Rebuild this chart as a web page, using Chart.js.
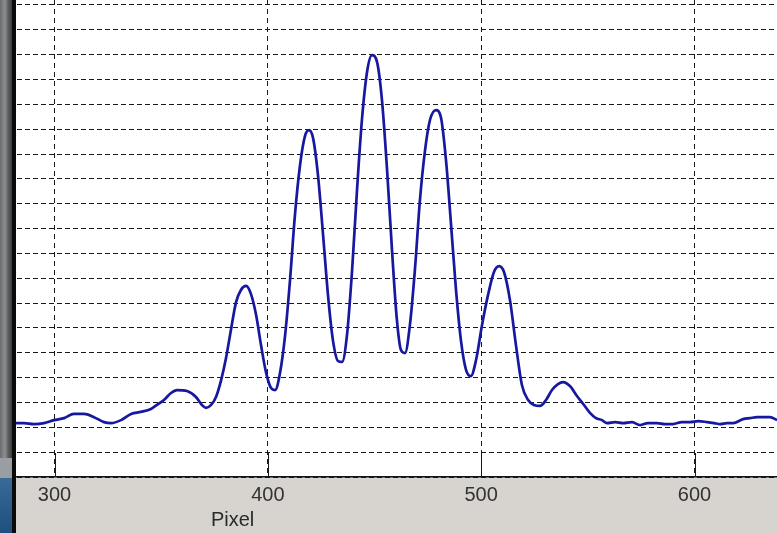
<!DOCTYPE html>
<html>
<head>
<meta charset="utf-8">
<script src="https://cdn.jsdelivr.net/npm/chart.js@4/dist/chart.umd.min.js"></script>
<style>
  html, body { margin: 0; padding: 0; background: #d7d4cf; }
  #wrap { position: relative; width: 777px; height: 533px; overflow: hidden; }
  #edge { position: absolute; left: 0; top: 0; width: 12px; height: 533px;
          background: linear-gradient(to right, #6a6c6e 0%, #8d9092 40%, #5a5c5e 70%, #3a3b3c 100%); }
  #edgeLow { position: absolute; left: 0; top: 458px; width: 12px; height: 20px; background: #9a9ea2; }
  #edgeBlue { position: absolute; left: 0; top: 478px; width: 12px; height: 55px;
              background: linear-gradient(to bottom, #3a6a98, #1f4f7e); }
  #bar { position: absolute; left: 12px; top: 0; width: 4px; height: 533px; background: #0a0a0a; }
  canvas { position: absolute; left: 0; top: 0; }
</style>
</head>
<body>
<div id="wrap">
  <div id="edge"></div>
  <div id="edgeLow"></div>
  <div id="edgeBlue"></div>
  <div id="bar"></div>
  <canvas id="c" width="777" height="533"></canvas>
</div>
<script>
// ---- data ----
const pixels = [
  281.0, 285.7, 290.4, 295.1, 299.8, 304.5, 309.1, 313.8, 318.5, 323.2,
  326.5, 331.2, 335.9, 340.5, 345.2, 348.0, 351.3, 354.6, 357.4, 362.1,
  366.3, 369.1, 371.0, 373.4, 375.7, 378.1, 380.4, 382.7, 385.1, 387.4,
  389.8, 392.1, 394.5, 396.8, 399.1, 401.5, 403.4, 405.7, 408.1, 410.4,
  412.7, 415.1, 417.4, 419.3, 421.2, 423.5, 425.9, 428.2, 430.5, 432.9,
  434.8, 437.1, 439.5, 441.8, 444.1, 446.5, 448.8, 451.2, 453.5, 455.9,
  458.2, 460.5, 462.4, 464.3, 466.6, 469.0, 471.3, 473.7, 476.0, 478.8,
  481.2, 483.5, 485.9, 488.2, 490.5, 492.9, 495.2, 497.6, 500.4, 503.2,
  506.0, 508.4, 510.7, 513.5, 516.3, 519.1, 522.0, 524.8, 527.6, 530.4,
  533.2, 536.0, 538.4, 541.6, 544.9, 548.2, 551.0, 553.8, 556.6, 559.0,
  562.8, 566.5, 570.7, 574.5, 578.2, 582.4, 586.2, 589.9, 594.1, 597.9,
  601.7, 605.9, 609.2, 612.0, 615.3, 618.1, 622.8, 626.0, 629.3, 633.0,
  635.4, 638.7
];
const intensity = [
  2.17, 2.17, 2.13, 2.17, 2.29, 2.37, 2.54, 2.54, 2.41, 2.21,
  2.17, 2.29, 2.54, 2.62, 2.74, 2.90, 3.10, 3.38, 3.50, 3.46,
  3.22, 2.90, 2.78, 2.90, 3.22, 3.90, 4.79, 5.92, 7.04, 7.53,
  7.69, 7.36, 6.52, 5.31, 4.23, 3.58, 3.50, 4.19, 5.71, 7.93,
  10.54, 12.56, 13.72, 13.96, 13.64, 12.15, 9.74, 7.32, 5.51, 4.67,
  4.63, 5.71, 8.33, 11.55, 14.37, 16.30, 16.98, 16.70, 15.17, 12.35,
  9.13, 6.32, 5.11, 4.99, 6.12, 8.41, 11.15, 13.16, 14.37, 14.77,
  14.45, 12.76, 10.14, 7.53, 5.51, 4.31, 4.06, 4.71, 6.12, 7.32,
  8.25, 8.49, 8.25, 7.12, 5.31, 3.70, 3.10, 2.90, 2.86, 3.10,
  3.50, 3.74, 3.82, 3.66, 3.26, 2.90, 2.58, 2.37, 2.29, 2.17,
  2.21, 2.17, 2.21, 2.09, 2.17, 2.17, 2.13, 2.13, 2.21, 2.21,
  2.25, 2.21, 2.17, 2.13, 2.17, 2.17, 2.33, 2.37, 2.41, 2.41,
  2.41, 2.29
];
const xTickValues = [300, 400, 500, 600];
const yGridValues = [0,1,2,3,4,5,6,7,8,9,10,11,12,13,14,15,16,17,18,19];
const xAxisTitle = 'Pixel';
const xRange = [281.95, 638.67];
const yRange = [0, 19.2];

const points = pixels.map((p, i) => ({ x: p, y: intensity[i] }));

const framePlugin = {
  id: 'frame',
  beforeDraw(chart) {
    const { ctx, chartArea: a } = chart;
    ctx.save();
    ctx.fillStyle = '#d7d4cf';
    ctx.fillRect(a.left, a.bottom, a.right - a.left, chart.height - a.bottom);
    ctx.fillStyle = '#ffffff';
    ctx.fillRect(a.left, a.top, a.right - a.left, a.bottom - a.top);
    ctx.restore();
  },
  afterDraw(chart) {
    const { ctx, chartArea: a, scales: { x } } = chart;
    ctx.save();
    ctx.strokeStyle = '#1a1a1a';
    ctx.lineWidth = 1;
    xTickValues.forEach(v => {
      const px = Math.round(x.getPixelForValue(v)) + 0.5;
      ctx.beginPath();
      ctx.moveTo(px, a.bottom);
      ctx.lineTo(px, a.bottom - 24);
      ctx.stroke();
    });
    ctx.fillStyle = '#2a2a2a';
    ctx.font = '20px "Liberation Sans", Arial, sans-serif';
    ctx.textAlign = 'center';
    ctx.textBaseline = 'middle';
    ctx.fillText(xAxisTitle, x.getPixelForValue(383.5), 520);
    ctx.restore();
  }
};

new Chart(document.getElementById('c'), {
  type: 'line',
  data: {
    datasets: [{
      data: points,
      borderColor: '#1717a0',
      borderWidth: 2.7,
      pointRadius: 0,
      fill: false,
      cubicInterpolationMode: 'monotone'
    }]
  },
  options: {
    responsive: false,
    animation: false,
    layout: { padding: { left: 16, right: 0, top: 0, bottom: 0 } },
    plugins: { legend: { display: false }, tooltip: { enabled: false } },
    scales: {
      x: {
        type: 'linear',
        min: xRange[0],
        max: xRange[1],
        afterBuildTicks: s => { s.ticks = xTickValues.map(v => ({ value: v })); },
        afterFit: s => { s.height = 56; },
        grid: { color: '#1a1a1a', lineWidth: 1, drawTicks: false },
        border: { display: true, color: '#111', width: 1.5, dash: [5, 4] },
        ticks: {
          padding: 6,
          color: '#333333',
          font: { family: '"Liberation Sans", Arial, sans-serif', size: 20 },
          maxRotation: 0,
          callback: v => String(v)
        }
      },
      y: {
        type: 'linear',
        min: yRange[0],
        max: yRange[1],
        afterBuildTicks: s => { s.ticks = yGridValues.map(v => ({ value: v })); },
        afterFit: s => { s.width = 0; },
        grid: { color: '#1a1a1a', lineWidth: 1, drawTicks: false },
        border: { display: true, color: 'rgba(0,0,0,0)', width: 1, dash: [5, 3] },
        ticks: { display: false }
      }
    }
  },
  plugins: [framePlugin]
});
</script>
</body>
</html>
